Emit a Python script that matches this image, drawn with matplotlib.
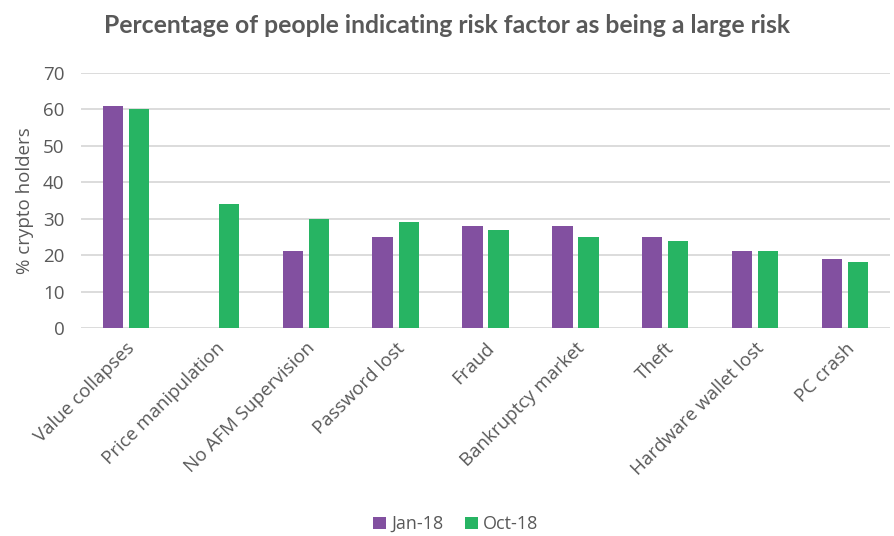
import matplotlib
matplotlib.use("Agg")
import matplotlib.pyplot as plt
import numpy as np

categories = ["Value collapses", "Price manipulation", "No AFM Supervision", "Password lost",
              "Fraud", "Bankruptcy market", "Theft", "Hardware wallet lost", "PC crash"]
jan18 = [61, np.nan, 21, 25, 28, 28, 25, 21, 19]
oct18 = [60, 34, 30, 29, 27, 25, 24, 21, 18]
yticks = [0, 10, 20, 30, 40, 50, 60, 70]

plt.rcParams['font.family'] = ['Open Sans', 'DejaVu Sans']
text_color = "#595959"
purple = "#8250A0"
green = "#27B463"

fig = plt.figure(figsize=(8.94, 5.36), dpi=100)
ax = fig.add_axes([0.0906, 0.388, 0.905, 0.476])

x = np.arange(len(categories))
w = 0.225
off = 0.145
ax.bar(x - off, jan18, w, color=purple, label="Jan-18", zorder=3)
ax.bar(x + off, oct18, w, color=green, label="Oct-18", zorder=3)

ax.set_xlim(-0.5, len(categories) - 0.5)
ax.set_ylim(0, 70)
ax.set_yticks(yticks)
ax.yaxis.grid(True, color="#D9D9D9", lw=1.3, zorder=0)
ax.set_axisbelow(True)
for s in ax.spines.values():
    s.set_visible(False)
ax.tick_params(axis='both', length=0, colors=text_color, labelsize=13.5)
ax.tick_params(axis='y', pad=12)
ax.set_xticks(x)
ax.set_xticklabels(categories, rotation=45, ha='right', rotation_mode='anchor')
ax.tick_params(axis='x', pad=8)
ax.set_ylabel("% crypto holders", color=text_color, fontsize=13.5, labelpad=6)

fig.text(0.5, 0.953, "Percentage of people indicating risk factor as being a large risk",
         ha='center', va='center', fontsize=17.8, fontweight='bold', color=text_color,
         family=['Lato', 'DejaVu Sans'])

leg = fig.legend(loc='center', bbox_to_anchor=(0.51, 0.022), ncol=2, frameon=False,
                 fontsize=13, handlelength=0.7, handleheight=0.7, handletextpad=0.3,
                 columnspacing=1.2, labelcolor=text_color)

fig.savefig("out.png", dpi=100)
